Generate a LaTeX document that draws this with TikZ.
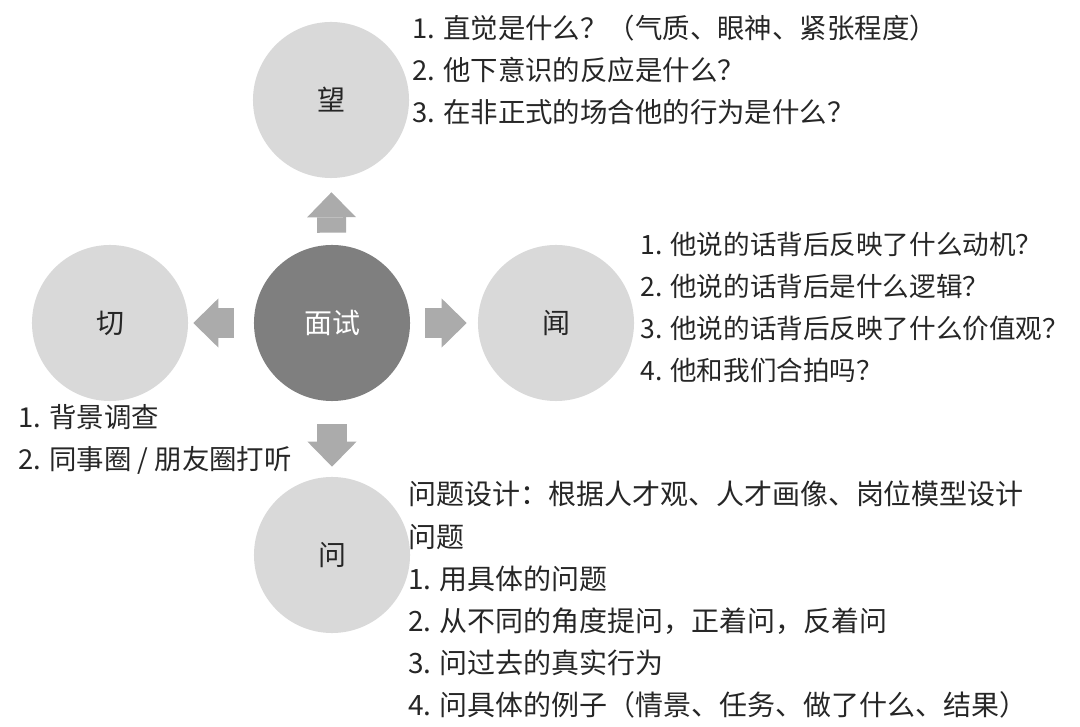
\documentclass[tikz,border=0pt]{standalone}
\usepackage{fontspec}
\setmainfont{Noto Sans CJK SC}
\usetikzlibrary{arrows.meta, positioning}

\definecolor{methodgray}{HTML}{D9D9D9}
\definecolor{hubgray}{HTML}{7F7F7F}
\definecolor{arrowgray}{HTML}{ABABAB}
\definecolor{inkgray}{HTML}{262626}

\begin{document}
\begin{tikzpicture}[
        x=0.025cm, y=-0.025cm,
        method/.style={circle, fill=methodgray, minimum size=3.9cm, inner sep=0pt, text=inkgray, font=\fontsize{19.9pt}{24pt}\selectfont},
        hub/.style={method, fill=hubgray, text=white},
        blockarrow/.style={draw=arrowgray, line width=0.725cm, -{Triangle[length=0.625cm, width=1.225cm, line width=0pt, fill=arrowgray]}},
        notes/.style={anchor=north west, align=left, inner sep=0pt, text=inkgray, font=\fontsize{19.5pt}{29.9pt}\selectfont},
        smallnotes/.style={notes, font=\fontsize{18.9pt}{29.9pt}\selectfont},
        bignotes/.style={notes, font=\fontsize{19.9pt}{29.9pt}\selectfont}
    ]
        \useasboundingbox (0,0) rectangle (1080,727);

        % circles
        \node[hub] (hub) at (332,323) {面试};
        \node[method] (look) at (331,100) {望};
        \node[method] (touch) at (110,323) {切};
        \node[method] (listen) at (556,323) {闻};
        \node[method] (ask) at (332,555) {问};

        % block arrows
        \draw[blockarrow, shorten <=0.3cm, shorten >=0.35cm] (hub) -- (look);
        \draw[blockarrow, shorten <=0.5cm, shorten >=0.125cm] (hub) -- (touch);
        \draw[blockarrow, shorten <=0.375cm, shorten >=0.275cm] (hub) -- (listen);
        \draw[blockarrow, shorten <=0.575cm, shorten >=0.25cm] (hub) -- (ask);

        % notes
        \node[notes] (lookNotes) at (412,14.5) {1. 直觉是什么？（气质、眼神、紧张程度）\\2. 他下意识的反应是什么？\\3. 在非正式的场合他的行为是什么？};
        \node[smallnotes] (listenNotes) at (640,232) {1. 他说的话背后反映了什么动机？\\2. 他说的话背后是什么逻辑？\\3. 他说的话背后反映了什么价值观？\\4. 他和我们合拍吗？};
        \node[notes] (touchNotes) at (18,404.5) {1. 背景调查\\2. 同事圈 / 朋友圈打听};
        \node[bignotes] (askNotes) at (408,481) {问题设计：根据人才观、人才画像、岗位模型设计\\问题\\1. 用具体的问题\\2. 从不同的角度提问，正着问，反着问\\3. 问过去的真实行为\\4. 问具体的例子（情景、任务、做了什么、结果）};
    \end{tikzpicture}
\end{document}
